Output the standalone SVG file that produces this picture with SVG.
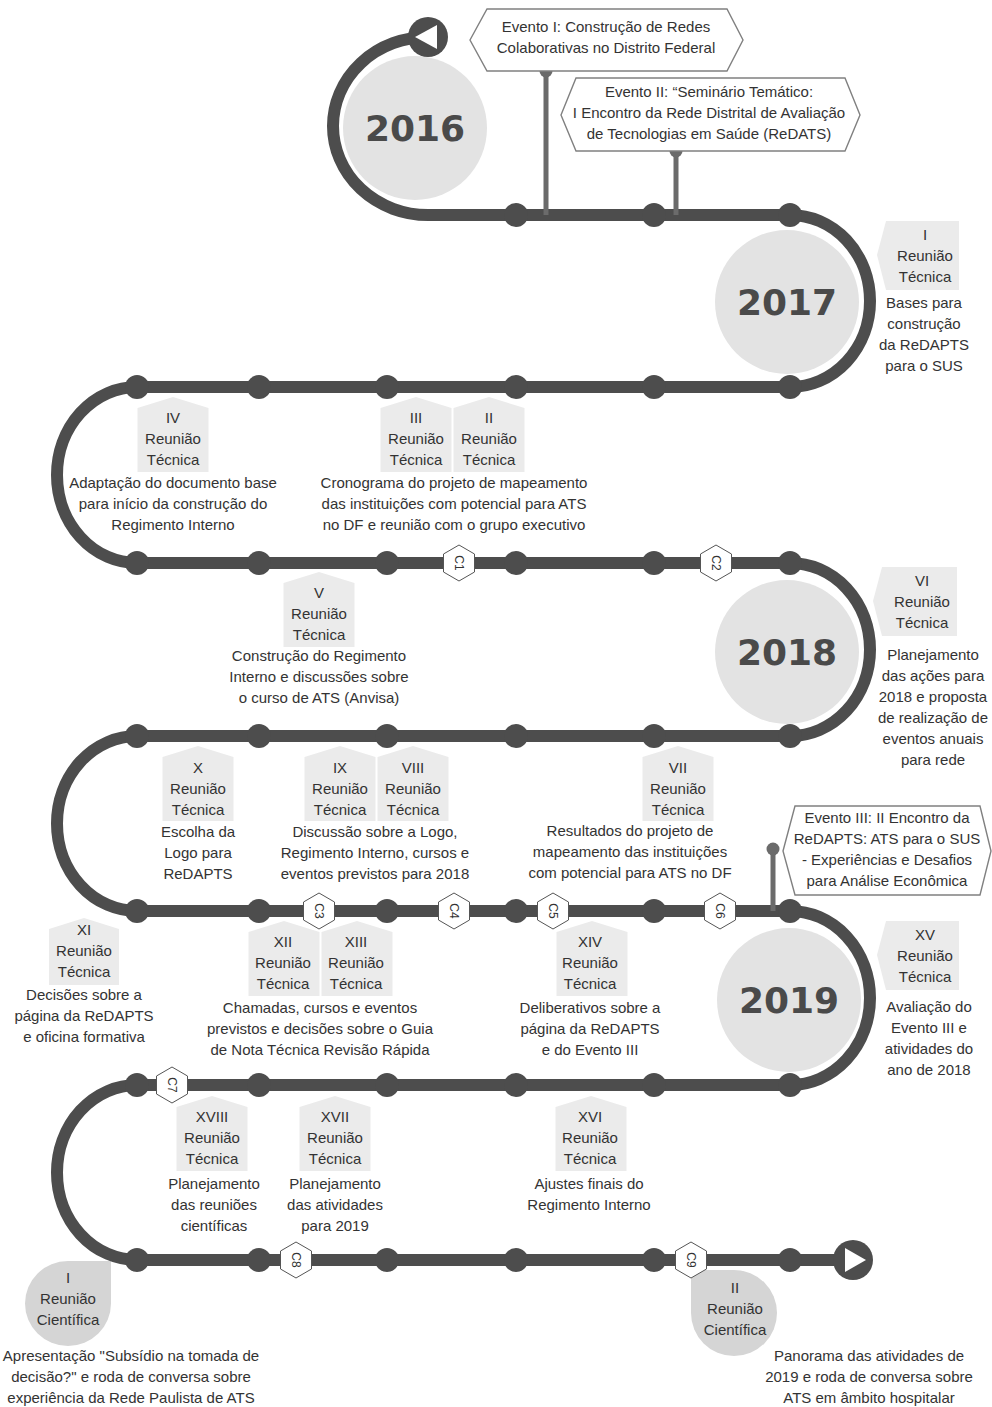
<svg xmlns="http://www.w3.org/2000/svg" width="992" height="1407" viewBox="0 0 992 1407">
<style>
.t{font-family:"Liberation Sans",Arial,sans-serif;font-size:15px;fill:#333;text-anchor:middle}
.yr{font-family:"DejaVu Sans",sans-serif;font-weight:bold;font-size:36px;fill:#4a4a4a;text-anchor:middle}
.box{fill:#ebebeb}
.sci{fill:#d5d5d5}
.yc{fill:#e3e3e3}
.track{fill:none;stroke:#4d4d4d;stroke-width:12}
.dot{fill:#4d4d4d}
.hex{fill:#fff;stroke:#555;stroke-width:1}
.hx{font-family:"Liberation Sans",Arial,sans-serif;font-size:12px;fill:#333;text-anchor:middle}
.ev{fill:#fff;stroke:#808080;stroke-width:1.4}
.stem{stroke:#6b6b6b;stroke-width:5}
.sd{fill:#6b6b6b}
</style>
<defs>
<polygon id="hexa" class="hex" points="0,-18 15.5,-9 15.5,9 0,18 -15.5,9 -15.5,-9"/>
</defs>
<rect width="992" height="1407" fill="#fff"/>

<!-- year circles -->
<g id="y2016"><circle class="yc" cx="415" cy="128" r="72"/><text class="yr" x="415" y="141">2016</text></g>
<g id="y2017"><circle class="yc" cx="787" cy="302" r="72"/><text class="yr" x="787" y="315">2017</text></g>
<g id="y2018"><circle class="yc" cx="787" cy="652" r="72"/><text class="yr" x="787" y="665">2018</text></g>
<g id="y2019"><circle class="yc" cx="789" cy="1000" r="72"/><text class="yr" x="789" y="1013">2019</text></g>

<!-- label boxes and texts -->
<g id="rt1"><path class="box" d="M877 255 L886 221 L959 221 L959 290 L886 290 Z"/>
<text class="t" x="925" y="240">I</text><text class="t" x="925" y="261">Reunião</text><text class="t" x="925" y="282">Técnica</text>
<text class="t" x="924" y="308">Bases para</text><text class="t" x="924" y="329">construção</text><text class="t" x="924" y="350">da ReDAPTS</text><text class="t" x="924" y="371">para o SUS</text></g>

<g id="rt4"><path class="box" d="M137.5 408 L173 397 L208.5 408 L208.5 472 L137.5 472 Z"/>
<text class="t" x="173" y="423">IV</text><text class="t" x="173" y="444">Reunião</text><text class="t" x="173" y="465">Técnica</text>
<text class="t" x="173" y="488">Adaptação do documento base</text><text class="t" x="173" y="509">para início da construção do</text><text class="t" x="173" y="530">Regimento Interno</text></g>

<g id="rt3"><path class="box" d="M380.5 408 L416 397 L451.5 408 L451.5 472 L380.5 472 Z"/>
<text class="t" x="416" y="423">III</text><text class="t" x="416" y="444">Reunião</text><text class="t" x="416" y="465">Técnica</text></g>
<g id="rt2"><path class="box" d="M453.5 408 L489 397 L524.5 408 L524.5 472 L453.5 472 Z"/>
<text class="t" x="489" y="423">II</text><text class="t" x="489" y="444">Reunião</text><text class="t" x="489" y="465">Técnica</text></g>
<g id="d23"><text class="t" x="454" y="488">Cronograma do projeto de mapeamento</text><text class="t" x="454" y="509">das instituições com potencial para ATS</text><text class="t" x="454" y="530">no DF e reunião com o grupo executivo</text></g>

<g id="rt5"><path class="box" d="M283.5 583 L319 572 L354.5 583 L354.5 647 L283.5 647 Z"/>
<text class="t" x="319" y="598">V</text><text class="t" x="319" y="619">Reunião</text><text class="t" x="319" y="640">Técnica</text>
<text class="t" x="319" y="661">Construção do Regimento</text><text class="t" x="319" y="682">Interno e discussões sobre</text><text class="t" x="319" y="703">o curso de ATS (Anvisa)</text></g>

<g id="rt6"><path class="box" d="M873 601 L882 567 L957 567 L957 636 L882 636 Z"/>
<text class="t" x="922" y="586">VI</text><text class="t" x="922" y="607">Reunião</text><text class="t" x="922" y="628">Técnica</text>
<text class="t" x="933" y="660">Planejamento</text><text class="t" x="933" y="681">das ações para</text><text class="t" x="933" y="702">2018 e proposta</text><text class="t" x="933" y="723">de realização de</text><text class="t" x="933" y="744">eventos anuais</text><text class="t" x="933" y="765">para rede</text></g>

<g id="rt10"><path class="box" d="M162.5 757 L198 746 L233.5 757 L233.5 821 L162.5 821 Z"/>
<text class="t" x="198" y="773">X</text><text class="t" x="198" y="794">Reunião</text><text class="t" x="198" y="815">Técnica</text>
<text class="t" x="198" y="837">Escolha da</text><text class="t" x="198" y="858">Logo para</text><text class="t" x="198" y="879">ReDAPTS</text></g>

<g id="rt9"><path class="box" d="M304.5 757 L340 746 L375.5 757 L375.5 821 L304.5 821 Z"/>
<text class="t" x="340" y="773">IX</text><text class="t" x="340" y="794">Reunião</text><text class="t" x="340" y="815">Técnica</text></g>
<g id="rt8"><path class="box" d="M377.5 757 L413 746 L448.5 757 L448.5 821 L377.5 821 Z"/>
<text class="t" x="413" y="773">VIII</text><text class="t" x="413" y="794">Reunião</text><text class="t" x="413" y="815">Técnica</text></g>
<g id="d89"><text class="t" x="375" y="837">Discussão sobre a Logo,</text><text class="t" x="375" y="858">Regimento Interno, cursos e</text><text class="t" x="375" y="879">eventos previstos para 2018</text></g>

<g id="rt7"><path class="box" d="M642.5 757 L678 746 L713.5 757 L713.5 821 L642.5 821 Z"/>
<text class="t" x="678" y="773">VII</text><text class="t" x="678" y="794">Reunião</text><text class="t" x="678" y="815">Técnica</text>
<text class="t" x="630" y="836">Resultados do projeto de</text><text class="t" x="630" y="857">mapeamento das instituições</text><text class="t" x="630" y="878">com potencial para ATS no DF</text></g>

<g id="rt11"><path class="box" d="M49 929 L84 918 L119 929 L119 985 L49 985 Z"/>
<text class="t" x="84" y="935">XI</text><text class="t" x="84" y="956">Reunião</text><text class="t" x="84" y="977">Técnica</text>
<text class="t" x="84" y="1000">Decisões sobre a</text><text class="t" x="84" y="1021">página da ReDAPTS</text><text class="t" x="84" y="1042">e oficina formativa</text></g>

<g id="rt12"><path class="box" d="M248.5 932 L284 921 L319.5 932 L319.5 996 L248.5 996 Z"/>
<text class="t" x="283" y="947">XII</text><text class="t" x="283" y="968">Reunião</text><text class="t" x="283" y="989">Técnica</text></g>
<g id="rt13"><path class="box" d="M321.5 932 L357 921 L392.5 932 L392.5 996 L321.5 996 Z"/>
<text class="t" x="356" y="947">XIII</text><text class="t" x="356" y="968">Reunião</text><text class="t" x="356" y="989">Técnica</text></g>
<g id="d1213"><text class="t" x="320" y="1013">Chamadas, cursos e eventos</text><text class="t" x="320" y="1034">previstos e decisões sobre o Guia</text><text class="t" x="320" y="1055">de Nota Técnica Revisão Rápida</text></g>

<g id="rt14"><path class="box" d="M556.5 932 L592 921 L627.5 932 L627.5 996 L556.5 996 Z"/>
<text class="t" x="590" y="947">XIV</text><text class="t" x="590" y="968">Reunião</text><text class="t" x="590" y="989">Técnica</text>
<text class="t" x="590" y="1013">Deliberativos sobre a</text><text class="t" x="590" y="1034">página da ReDAPTS</text><text class="t" x="590" y="1055">e do Evento III</text></g>

<g id="rt15"><path class="box" d="M877 955 L886 921 L959 921 L959 990 L886 990 Z"/>
<text class="t" x="925" y="940">XV</text><text class="t" x="925" y="961">Reunião</text><text class="t" x="925" y="982">Técnica</text>
<text class="t" x="929" y="1012">Avaliação do</text><text class="t" x="929" y="1033">Evento III e</text><text class="t" x="929" y="1054">atividades do</text><text class="t" x="929" y="1075">ano de 2018</text></g>

<g id="rt18"><path class="box" d="M176.5 1107 L212 1096 L247.5 1107 L247.5 1171 L176.5 1171 Z"/>
<text class="t" x="212" y="1122">XVIII</text><text class="t" x="212" y="1143">Reunião</text><text class="t" x="212" y="1164">Técnica</text>
<text class="t" x="214" y="1189">Planejamento</text><text class="t" x="214" y="1210">das reuniões</text><text class="t" x="214" y="1231">científicas</text></g>

<g id="rt17"><path class="box" d="M299.5 1107 L335 1096 L370.5 1107 L370.5 1171 L299.5 1171 Z"/>
<text class="t" x="335" y="1122">XVII</text><text class="t" x="335" y="1143">Reunião</text><text class="t" x="335" y="1164">Técnica</text>
<text class="t" x="335" y="1189">Planejamento</text><text class="t" x="335" y="1210">das atividades</text><text class="t" x="335" y="1231">para 2019</text></g>

<g id="rt16"><path class="box" d="M555.5 1107 L591 1096 L626.5 1107 L626.5 1171 L555.5 1171 Z"/>
<text class="t" x="590" y="1122">XVI</text><text class="t" x="590" y="1143">Reunião</text><text class="t" x="590" y="1164">Técnica</text>
<text class="t" x="589" y="1189">Ajustes finais do</text><text class="t" x="589" y="1210">Regimento Interno</text></g>

<g id="rc1"><path class="sci" d="M68 1261 L111 1261 L111 1303.5 A43 42.5 0 0 1 68 1346 A43 42.5 0 0 1 25 1303.5 A43 42.5 0 0 1 68 1261 Z"/>
<text class="t" x="68" y="1283">I</text><text class="t" x="68" y="1304">Reunião</text><text class="t" x="68" y="1325">Científica</text>
<text class="t" x="131" y="1361">Apresentação "Subsídio na tomada de</text><text class="t" x="131" y="1382">decisão?" e roda de conversa sobre</text><text class="t" x="131" y="1403">experiência da Rede Paulista de ATS</text></g>

<g id="rc2"><path class="sci" d="M691 1270 L734 1270 A43 43 0 0 1 777 1313 A43 43 0 0 1 734 1356 A43 43 0 0 1 691 1313 Z"/>
<text class="t" x="735" y="1293">II</text><text class="t" x="735" y="1314">Reunião</text><text class="t" x="735" y="1335">Científica</text>
<text class="t" x="869" y="1361">Panorama das atividades de</text><text class="t" x="869" y="1382">2019 e roda de conversa sobre</text><text class="t" x="869" y="1403">ATS em âmbito hospitalar</text></g>

<!-- connectors -->
<g id="connectors">
<path class="track" d="M428 37 A95 89 0 0 0 428 215 L790 215 A80 86 0 0 1 790 387 L137 387 A80 88 0 0 0 137 563 L790 563 A80 86.5 0 0 1 790 736 L137 736 A80 87.5 0 0 0 137 911 L790 911 A80 87 0 0 1 790 1085 L137 1085 A80 87.5 0 0 0 137 1260 L853 1260"/>
<line class="stem" x1="546" y1="71" x2="546" y2="215"/><circle class="sd" cx="546" cy="71" r="6.5"/>
<line class="stem" x1="676" y1="151" x2="676" y2="215"/><circle class="sd" cx="676" cy="151" r="6.5"/>
<line class="stem" x1="773" y1="849" x2="773" y2="911"/><circle class="sd" cx="773" cy="849" r="6.5"/>
<g id="start"><circle class="dot" cx="428" cy="37" r="20"/><polygon fill="#fff" points="415,37 437,25 437,49"/></g>
<g id="end"><circle class="dot" cx="853" cy="1260" r="20"/><polygon fill="#fff" points="845,1248 845,1272 866,1260"/></g>
<g id="dots">
<circle class="dot" cx="516" cy="215" r="12"/><circle class="dot" cx="654" cy="215" r="12"/><circle class="dot" cx="790" cy="215" r="12"/>
<circle class="dot" cx="137" cy="387" r="12"/><circle class="dot" cx="259" cy="387" r="12"/><circle class="dot" cx="387" cy="387" r="12"/><circle class="dot" cx="516" cy="387" r="12"/><circle class="dot" cx="654" cy="387" r="12"/><circle class="dot" cx="790" cy="387" r="12"/>
<circle class="dot" cx="137" cy="563" r="12"/><circle class="dot" cx="259" cy="563" r="12"/><circle class="dot" cx="387" cy="563" r="12"/><circle class="dot" cx="516" cy="563" r="12"/><circle class="dot" cx="654" cy="563" r="12"/><circle class="dot" cx="790" cy="563" r="12"/>
<circle class="dot" cx="137" cy="736" r="12"/><circle class="dot" cx="259" cy="736" r="12"/><circle class="dot" cx="387" cy="736" r="12"/><circle class="dot" cx="516" cy="736" r="12"/><circle class="dot" cx="654" cy="736" r="12"/><circle class="dot" cx="790" cy="736" r="12"/>
<circle class="dot" cx="137" cy="911" r="12"/><circle class="dot" cx="259" cy="911" r="12"/><circle class="dot" cx="387" cy="911" r="12"/><circle class="dot" cx="516" cy="911" r="12"/><circle class="dot" cx="654" cy="911" r="12"/><circle class="dot" cx="790" cy="911" r="12"/>
<circle class="dot" cx="137" cy="1085" r="12"/><circle class="dot" cx="259" cy="1085" r="12"/><circle class="dot" cx="387" cy="1085" r="12"/><circle class="dot" cx="516" cy="1085" r="12"/><circle class="dot" cx="654" cy="1085" r="12"/><circle class="dot" cx="790" cy="1085" r="12"/>
<circle class="dot" cx="137" cy="1260" r="12"/><circle class="dot" cx="259" cy="1260" r="12"/><circle class="dot" cx="387" cy="1260" r="12"/><circle class="dot" cx="516" cy="1260" r="12"/><circle class="dot" cx="654" cy="1260" r="12"/><circle class="dot" cx="790" cy="1260" r="12"/>
</g>
</g>

<g id="C1"><use href="#hexa" x="459" y="563"/><text class="hx" transform="translate(459,563) rotate(90)" y="4">C1</text></g>
<g id="C2"><use href="#hexa" x="716" y="563"/><text class="hx" transform="translate(716,563) rotate(90)" y="4">C2</text></g>
<g id="C3"><use href="#hexa" x="319" y="911"/><text class="hx" transform="translate(319,911) rotate(90)" y="4">C3</text></g>
<g id="C4"><use href="#hexa" x="454" y="911"/><text class="hx" transform="translate(454,911) rotate(90)" y="4">C4</text></g>
<g id="C5"><use href="#hexa" x="553" y="911"/><text class="hx" transform="translate(553,911) rotate(90)" y="4">C5</text></g>
<g id="C6"><use href="#hexa" x="720" y="911"/><text class="hx" transform="translate(720,911) rotate(90)" y="4">C6</text></g>
<g id="C7"><use href="#hexa" x="172" y="1085"/><text class="hx" transform="translate(172,1085) rotate(90)" y="4">C7</text></g>
<g id="C8"><use href="#hexa" x="296" y="1260"/><text class="hx" transform="translate(296,1260) rotate(90)" y="4">C8</text></g>
<g id="C9"><use href="#hexa" x="691" y="1260"/><text class="hx" transform="translate(691,1260) rotate(90)" y="4">C9</text></g>

<g id="ev1"><path class="ev" d="M470 40 L487 9 L727 9 L743 40 L727 71 L487 71 Z"/>
<text class="t" x="606" y="32">Evento I: Construção de Redes</text><text class="t" x="606" y="53">Colaborativas no Distrito Federal</text></g>
<g id="ev2"><path class="ev" d="M561 115 L576 78 L845 78 L860 115 L845 151 L576 151 Z"/>
<text class="t" x="709" y="97">Evento II: “Seminário Temático:</text><text class="t" x="709" y="118">I Encontro da Rede Distrital de Avaliação</text><text class="t" x="709" y="139">de Tecnologias em Saúde (ReDATS)</text></g>
<g id="ev3"><path class="ev" d="M783 851 L795 806 L980 806 L991 851 L980 895 L795 895 Z"/>
<text class="t" x="887" y="823">Evento III: II Encontro da</text><text class="t" x="887" y="844">ReDAPTS: ATS para o SUS</text><text class="t" x="887" y="865">- Experiências e Desafios</text><text class="t" x="887" y="886">para Análise Econômica</text></g>
</svg>
